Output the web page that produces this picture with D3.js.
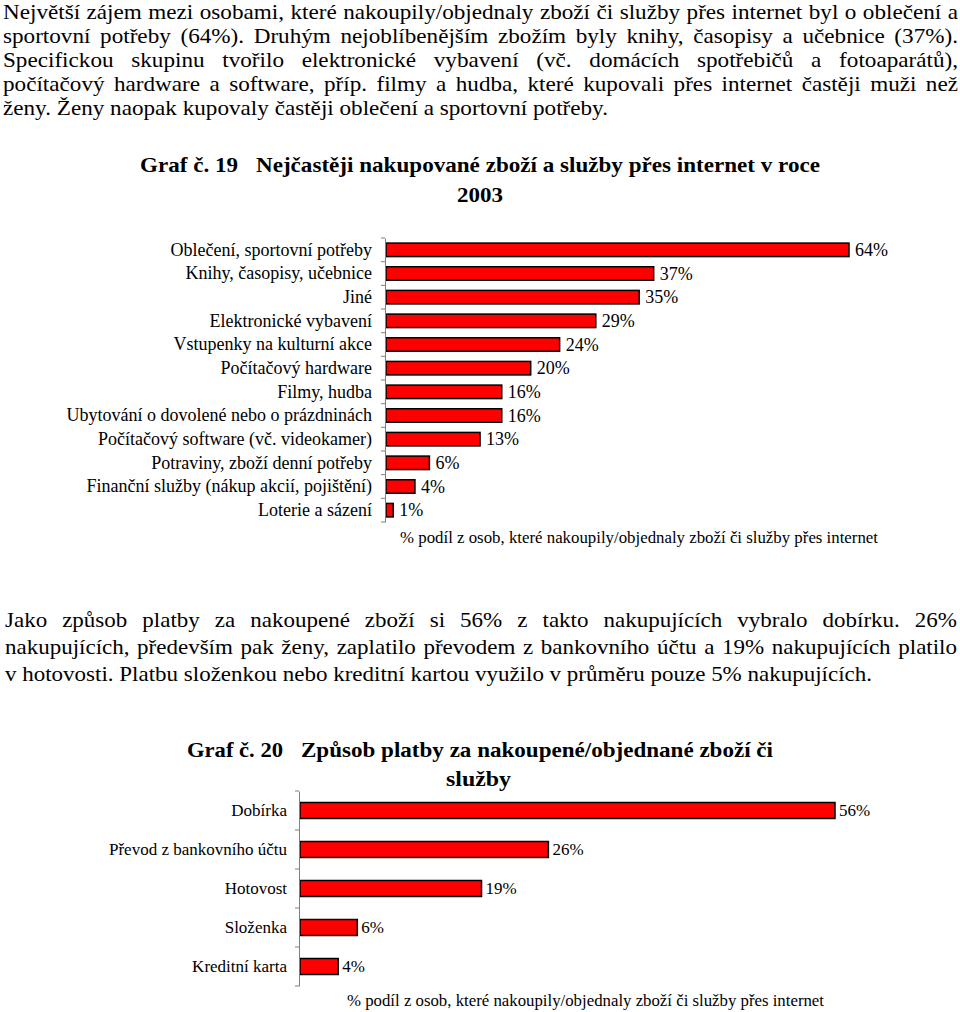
<!DOCTYPE html>
<html><head><meta charset="utf-8">
<script src="https://cdn.jsdelivr.net/npm/d3@7"></script>
<style>
body{margin:0;background:#fff}
svg{display:block}
</style>
</head><body>
<svg id="c" width="960" height="1012"></svg>
<script>
// ---------- text ----------
const para1Lines = [
  "Největší zájem mezi osobami, které nakoupily/objednaly zboží  či služby přes internet byl o oblečení a",
  "sportovní potřeby (64%). Druhým nejoblíbenějším zbožím byly knihy, časopisy a učebnice (37%).",
  "Specifickou skupinu tvořilo elektronické vybavení (vč. domácích spotřebičů a fotoaparátů),",
  "počítačový hardware a software, příp. filmy a hudba, které kupovali přes internet častěji muži než",
  "ženy. Ženy naopak kupovaly častěji oblečení a sportovní potřeby."
];
const para2Lines = [
  "Jako způsob platby za nakoupené zboží si 56% z takto nakupujících vybralo dobírku. 26%",
  "nakupujících, především pak ženy, zaplatilo převodem z bankovního účtu a 19%  nakupujících platilo",
  "v hotovosti. Platbu složenkou nebo kreditní kartou využilo v průměru pouze 5% nakupujících."
];
const chart1Title = ["Graf č. 19", "Nejčastěji nakupované zboží a služby přes internet v roce", "2003"];
const chart2Title = ["Graf č. 20", "Způsob platby za nakoupené/objednané zboží či", "služby"];
const axisTitle = "% podíl z osob, které nakoupily/objednaly zboží či služby přes internet";

// ---------- data ----------
const chart1Categories = [
  "Oblečení, sportovní potřeby",
  "Knihy, časopisy, učebnice",
  "Jiné",
  "Elektronické vybavení ",
  "Vstupenky na kulturní akce",
  "Počítačový hardware",
  "Filmy, hudba",
  "Ubytování o dovolené nebo o prázdninách",
  "Počítačový software (vč. videokamer)",
  "Potraviny, zboží denní potřeby",
  "Finanční služby (nákup akcií, pojištění)",
  "Loterie a sázení"
];
const chart1Values = [64, 37, 35, 29, 24, 20, 16, 16, 13, 6, 4, 1];

const chart2Categories = ["Dobírka", "Převod z bankovního účtu", "Hotovost", "Složenka", "Kreditní karta"];
const chart2Values = [56, 26, 19, 6, 4];

// ---------- helpers ----------
const FONT = "Liberation Serif";
const svg = d3.select("#c");

function measure(str, size, weight) {
  const t = svg.append("text").attr("font-family", FONT).attr("font-size", size)
    .attr("font-weight", weight || "normal").text(str);
  const w = t.node().getComputedTextLength();
  t.remove();
  return w;
}
function spaceWidth(size, weight) {
  return measure("a a", size, weight) - measure("aa", size, weight);
}
function paragraph(lines, x0, x1, lastEnd, baselines, size) {
  const g = svg.append("g");
  const sp = spaceWidth(size);
  const last = lines[lines.length - 1].split(/\s+/).filter(Boolean);
  const natLast = d3.sum(last, w => measure(w, size)) + sp * (last.length - 1);
  const sx = (lastEnd - x0) / natLast;
  lines.forEach((line, li) => {
    const words = line.split(/\s+/).filter(Boolean);
    const widths = words.map(w => measure(w, size) * sx);
    const total = d3.sum(widths);
    const justify = li < lines.length - 1;
    const gap = justify ? (x1 - x0 - total) / (words.length - 1) : sp * sx;
    let x = x0;
    words.forEach((w, i) => {
      g.append("text").attr("x", x).attr("y", baselines[li])
        .attr("font-family", FONT).attr("font-size", size)
        .attr("textLength", widths[i]).attr("lengthAdjust", "spacingAndGlyphs").text(w);
      x += widths[i] + gap;
    });
  });
}
function fitText(str, x0, x1, y, size, weight) {
  svg.append("text").attr("x", x0).attr("y", y).attr("font-family", FONT).attr("font-size", size)
    .attr("font-weight", weight || "normal")
    .attr("textLength", x1 - x0).attr("lengthAdjust", "spacingAndGlyphs").text(str);
}

// ---------- paragraphs ----------
paragraph(para1Lines, 3, 958, 608, [19, 43, 67, 91, 115], 21);
paragraph(para2Lines, 5, 957, 872, [627, 654, 681], 22);

// ---------- titles ----------
fitText(chart1Title[0], 140, 238, 172, 22, "bold");
fitText(chart1Title[1], 256, 820, 172, 22, "bold");
fitText(chart1Title[2], 457, 503, 202, 22, "bold");
fitText(chart2Title[0], 187, 283, 757, 22, "bold");
fitText(chart2Title[1], 301, 773, 757, 22, "bold");
fitText(chart2Title[2], 446, 511, 786, 22, "bold");

// ---------- bar chart builder ----------
function barChart(cfg) {
  const { cats, vals, xDomainMax, xRange, yRange, padding, fontSize, labelPad, valueGap, titleX, titleY } = cfg;
  const x = d3.scaleLinear().domain([0, xDomainMax]).range(xRange);
  const y = d3.scaleBand().domain(cats).range(yRange).paddingInner(padding).paddingOuter(padding / 2);
  const axisX = xRange[0] - 1;
  const g = svg.append("g");

  g.selectAll("rect").data(vals).join("rect")
    .attr("x", x(0))
    .attr("y", (d, i) => y(cats[i]))
    .attr("width", d => x(d) - x(0))
    .attr("height", y.bandwidth())
    .attr("fill", "#ff0000")
    .attr("stroke", "#000")
    .attr("stroke-width", 1.5);

  const ax = g.append("g").attr("transform", `translate(${axisX},0)`)
    .call(d3.axisLeft(y).tickSize(0).tickSizeOuter(0).tickPadding(labelPad));
  ax.attr("font-family", FONT).attr("font-size", fontSize);
  ax.select(".domain").attr("stroke", "#808080").attr("stroke-width", 1);
  ax.selectAll("text").attr("font-family", FONT).attr("font-size", fontSize)
    .attr("fill", "#000").attr("dy", "0.33em");

  const bounds = d3.range(cats.length + 1).map(i => yRange[0] + i * y.step());
  g.selectAll("line.b").data(bounds).join("line").attr("class", "b")
    .attr("x1", axisX - 4).attr("x2", axisX).attr("y1", d => d).attr("y2", d => d)
    .attr("stroke", "#808080").attr("stroke-width", 1);

  g.selectAll("text.v").data(vals).join("text").attr("class", "v")
    .attr("x", d => x(d) + valueGap)
    .attr("y", (d, i) => y(cats[i]) + y.bandwidth() / 2)
    .attr("dy", "0.35em")
    .attr("font-family", FONT)
    .attr("font-size", fontSize)
    .text(d => d + "%");

  g.append("text").attr("x", titleX[0]).attr("y", titleY).attr("dy", "0.35em")
    .attr("font-family", FONT)
    .attr("font-size", 16.5).attr("textLength", titleX[1] - titleX[0])
    .attr("lengthAdjust", "spacingAndGlyphs").text(axisTitle);
}

barChart({
  cats: chart1Categories, vals: chart1Values, xDomainMax: 64, xRange: [386, 849],
  yRange: [238, 522], padding: 0.43, fontSize: 18, labelPad: 13, valueGap: 6,
  titleX: [400, 878], titleY: 537
});
barChart({
  cats: chart2Categories, vals: chart2Values, xDomainMax: 56, xRange: [300, 835],
  yRange: [791, 986], padding: 0.59, fontSize: 17, labelPad: 12, valueGap: 4,
  titleX: [347, 824], titleY: 1000
});
</script>
</body></html>
